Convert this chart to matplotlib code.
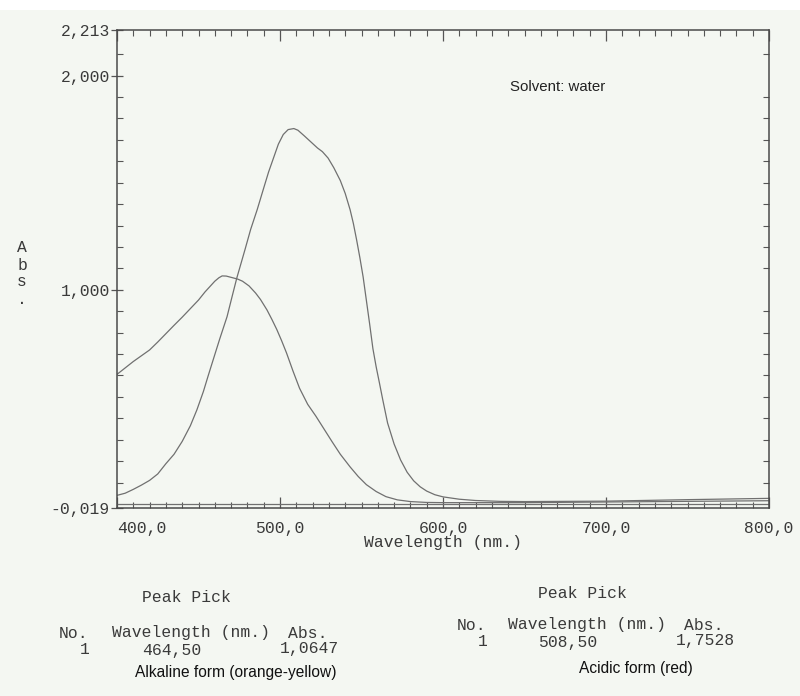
import numpy as np
import matplotlib.pyplot as plt
from matplotlib.patches import Rectangle

plt.rcParams['font.family'] = ['Liberation Mono', 'DejaVu Sans Mono']
plt.rcParams['axes.unicode_minus'] = False

# absorbance, wavelength in nm
alk_nm = [400, 405, 410, 415, 420, 425, 430, 435, 440, 445, 450, 454, 457, 460,
          462.5, 464.5, 467, 470, 474, 477, 481, 485, 488, 492, 495, 498, 501,
          504, 508, 512, 517, 522, 527, 532, 537, 543, 548, 553, 559, 565, 572,
          580, 590, 600, 650, 700, 750, 800]
alk_abs = [0.605, 0.635, 0.665, 0.692, 0.719, 0.756, 0.795, 0.834, 0.872, 0.912,
           0.952, 0.990, 1.015, 1.040, 1.056, 1.0647, 1.064, 1.058, 1.050, 1.040,
           1.018, 0.985, 0.955, 0.906, 0.862, 0.815, 0.762, 0.705, 0.620, 0.540,
           0.465, 0.410, 0.350, 0.290, 0.232, 0.173, 0.128, 0.090, 0.058, 0.034,
           0.019, 0.011, 0.007, 0.006, 0.006, 0.009, 0.012, 0.015]

acid_nm = [400, 405, 410, 415, 420, 425, 430, 435, 440, 445, 449, 453, 456, 459,
           463, 467.5, 470.5, 473.5, 478.5, 482, 486, 490, 493, 496, 499, 502,
           505, 508.5, 511, 515, 519, 523, 526, 529.5, 533, 537, 540, 543, 545,
           547, 549, 551, 553, 555, 557, 559, 561, 563, 566, 570, 574, 578, 582,
           586, 590, 595, 600, 610, 620, 635, 650, 700, 750, 800]
acid_abs = [0.040, 0.050, 0.068, 0.088, 0.110, 0.140, 0.188, 0.232, 0.292, 0.365,
            0.439, 0.525, 0.600, 0.673, 0.770, 0.874, 0.965, 1.055, 1.187, 1.282,
            1.374, 1.475, 1.550, 1.615, 1.680, 1.725, 1.748, 1.7528, 1.745, 1.718,
            1.690, 1.662, 1.645, 1.615, 1.570, 1.510, 1.450, 1.374, 1.310, 1.233,
            1.150, 1.060, 0.950, 0.840, 0.725, 0.640, 0.565, 0.488, 0.378, 0.280,
            0.205, 0.148, 0.108, 0.080, 0.060, 0.043, 0.033, 0.022, 0.016, 0.012,
            0.011, 0.013, 0.020, 0.026]

baseline_nm = [400, 800]
baseline_abs = [0.0, 0.0]

y_lo, y_hi = -0.019, 2.213
y_major = [-0.019, 1.0, 2.0, 2.213]
y_major_labels = ['-0,019', '1,000', '2,000', '2,213']
x_major = [400, 500, 600, 700, 800]
x_major_labels = ['400,0', '500,0', '600,0', '700,0', '800,0']

peaks_alk = ('1', '464,50', '1,0647')
peaks_acid = ('1', '508,50', '1,7528')

paper = '#f4f7f2'
ink = '#3a3a3a'
trace = '#707070'
fs = 11.8

fig = plt.figure(figsize=(8.0, 6.96), dpi=100, facecolor=paper)
W, H = 800, 696


def px(x, y):
    # figure pixel position (from top-left) -> figure fraction
    return x / W, 1 - y / H


ax = fig.add_axes([117 / W, 1 - 508 / H, (769 - 117) / W, (508 - 30) / H])
ax.set_facecolor(paper)

ax.plot(alk_nm, alk_abs, color=trace, lw=0.9, solid_joinstyle='round')
ax.plot(acid_nm, acid_abs, color=trace, lw=0.9, solid_joinstyle='round')
ax.plot(baseline_nm, baseline_abs, color=trace, lw=0.9)

ax.set_xlim(400, 800)
ax.set_ylim(y_lo, y_hi)

for s in ax.spines.values():
    s.set_color('#4a4a4a')
    s.set_linewidth(1.1)

ax.set_xticks(x_major)
ax.set_xticklabels(x_major_labels, fontsize=fs, color=ink)
ax.get_xticklabels()[0].set_horizontalalignment('left')
ax.set_xticks(np.arange(400, 801, 10), minor=True)
ax.set_yticks(y_major)
ax.set_yticklabels(y_major_labels, fontsize=fs, color=ink)
ax.set_yticks(np.arange(0.1, 2.2, 0.1), minor=True)

ax.tick_params(axis='x', which='major', direction='in', length=8, width=0.9,
               color='#555555', top=True, pad=9)
ax.tick_params(axis='x', which='minor', direction='in', length=4, width=0.8,
               color='#555555', top=True)
ax.tick_params(axis='y', which='major', direction='inout', length=8, width=0.9,
               color='#555555', pad=1)
ax.tick_params(axis='y', which='minor', direction='in', length=4, width=0.8,
               color='#555555', right=True)

ax.set_xlabel('Wavelength (nm.)', fontsize=fs, color=ink, labelpad=0)

# stacked y label as printed by the instrument
for i, ch in enumerate(['A', 'b', 's', '.']):
    fig.text(*px(22, 248 + 17 * i), ch, fontsize=fs, color=ink,
             ha='center', va='center')

fig.text(*px(558, 87), 'Solvent: water', family='Liberation Sans', fontsize=10.8,
         color='#222222', ha='center', va='center')


def peak_table(x_no, x_wl, y_title, y_head, y_row, vals):
    fig.text(*px(x_wl + 30, y_title), 'Peak Pick', fontsize=fs, color=ink,
             va='center')
    fig.text(*px(x_no, y_head), 'No.', fontsize=fs, color=ink, va='center')
    fig.text(*px(x_wl, y_head), 'Wavelength (nm.)', fontsize=fs, color=ink,
             va='center')
    fig.text(*px(x_wl + 176, y_head), 'Abs.', fontsize=fs, color=ink,
             va='center')
    fig.text(*px(x_no + 26, y_row), vals[0], fontsize=fs, color=ink,
             va='center', ha='center')
    fig.text(*px(x_wl + 30, y_row), vals[1], fontsize=fs, color=ink,
             va='center')
    fig.text(*px(x_wl + 227, y_row - 1), vals[2], fontsize=fs, color=ink,
             va='center', ha='right')


peak_table(59, 112, 598, 633, 650, peaks_alk)
peak_table(457, 508, 593, 625, 642, peaks_acid)

fig.text(*px(236, 673), 'Alkaline form (orange-yellow)', family='Liberation Sans',
         fontsize=11.2, color='#111111', ha='center', va='center')
fig.text(*px(636, 668), 'Acidic form (red)', family='Liberation Sans',
         fontsize=11.2, color='#111111', ha='center', va='center')

# white scanner margin along the top edge
fig.patches.append(Rectangle(px(0, 10), 1, 10 / H, transform=fig.transFigure,
                             facecolor='white', edgecolor='none', zorder=-1))

fig.savefig('out.png', dpi=100, facecolor=paper)
